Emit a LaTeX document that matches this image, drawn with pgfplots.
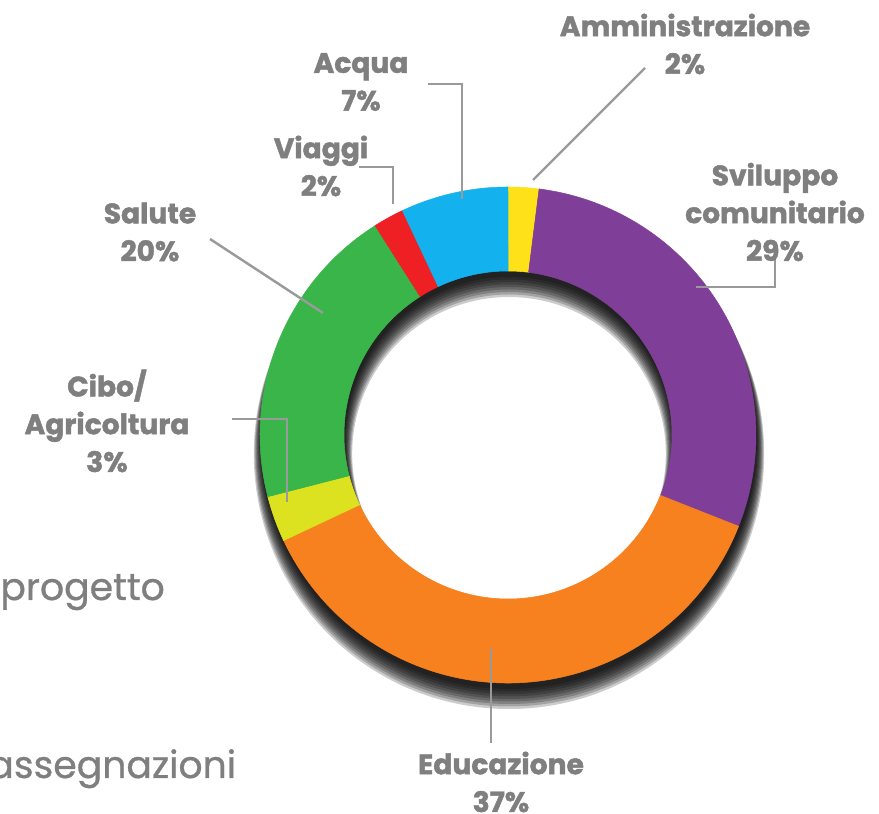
\documentclass[border=0pt]{standalone}
\usepackage{fontspec}
\setmainfont{Poppins}
\usepackage{pgfplots}
\usepackage{pgfplotstable}
\pgfplotsset{compat=1.18}

\definecolor{amm}{HTML}{FFE11A}
\definecolor{svi}{HTML}{7F3F98}
\definecolor{edu}{HTML}{F7801F}
\definecolor{cib}{HTML}{DCE21F}
\definecolor{sal}{HTML}{3AB54A}
\definecolor{via}{HTML}{EE2024}
\definecolor{acq}{HTML}{13B1EE}
\definecolor{labgray}{HTML}{7F7F7F}
\definecolor{linegray}{HTML}{9A9A9A}

% share (%) of each slice, clockwise from the top
\pgfplotstableread{
share col
2  amm
29 svi
37 edu
3  cib
20 sal
2  via
7  acq
}\donutdata

\begin{document}
\begin{tikzpicture}
\begin{axis}[
    x=0.02cm, y=0.02cm,
    xmin=0, xmax=879, ymin=0, ymax=814,
    hide axis,
    clip=false,
]
% soft shadow under the ring
\pgfplotsforeachungrouped \k in {0,...,8} {
  \pgfmathsetmacro\ro{(248+0.9*\k)*0.02}
  \pgfmathsetmacro\ri{(164-0.9*\k)*0.02}
  \pgfmathsetmacro\cy{379-6-1.6*\k}
  \edef\temp{\noexpand\fill[black, opacity=0.2, even odd rule]
    (axis cs:509,\cy) circle[radius=\ro cm]
    (axis cs:509,\cy) circle[radius=\ri cm];}
  \temp
}
% ring slices
\xdef\startang{90}
\pgfplotsforeachungrouped \i in {0,...,6} {
  \pgfplotstablegetelem{\i}{share}\of\donutdata \let\sh\pgfplotsretval
  \pgfplotstablegetelem{\i}{col}\of\donutdata \let\cl\pgfplotsretval
  \pgfmathsetmacro\endang{\startang-3.6*\sh}
  \pgfmathsetmacro\xa{508+248*cos(\startang)}
  \pgfmathsetmacro\ya{379+248*sin(\startang)}
  \pgfmathsetmacro\xb{508+164*cos(\endang)}
  \pgfmathsetmacro\yb{379+164*sin(\endang)}
  \edef\temp{\noexpand\fill[\cl, draw=\cl, line width=0.3pt]
    (axis cs:\xa,\ya) arc[start angle=\startang, end angle=\endang, radius=4.96cm]
    -- (axis cs:\xb,\yb) arc[start angle=\endang, end angle=\startang, radius=3.28cm] -- cycle;}
  \temp
  \xdef\startang{\endang}
}
% leader lines
\draw[linegray, line width=1.4pt] (axis cs:533,634) -- (axis cs:645,746);
\draw[linegray, line width=1.4pt] (axis cs:428,730) -- (axis cs:462,730) -- (axis cs:462,615);
\draw[linegray, line width=1.4pt] (axis cs:359,647) -- (axis cs:393,647) -- (axis cs:393,610);
\draw[linegray, line width=1.4pt] (axis cs:210,575) -- (axis cs:323,501);
\draw[linegray, line width=1.4pt] (axis cs:232,395) -- (axis cs:287,395) -- (axis cs:287,312);
\draw[linegray, line width=1.4pt] (axis cs:696,527) -- (axis cs:775,527) -- (axis cs:775,556);
\draw[linegray, line width=1.4pt] (axis cs:491,166) -- (axis cs:491,71);
% labels
\tikzset{lab/.style={text=labgray, align=center, inner sep=0pt,
    font=\fontsize{16}{21.5}\selectfont\bfseries\addfontfeatures{FakeBold=1.6}}}
\node[lab] at (axis cs:685,770) {Amministrazione\\2\%};
\node[lab] at (axis cs:361,732) {Acqua\\7\%};
\node[lab] at (axis cs:321,648) {Viaggi\\2\%};
\node[lab] at (axis cs:150,582) {Salute\\20\%};
\node[lab] at (axis cs:107,393) {Cibo/\\Agricoltura\\3\%};
\node[lab] at (axis cs:775,602) {Sviluppo\\comunitario\\29\%};
\node[lab] at (axis cs:501,32) {Educazione\\37\%};
% cut-off slide text on the left
\tikzset{slide/.style={anchor=base west, inner sep=0pt, text=labgray,
    font=\fontsize{21.5}{26}\selectfont\addfontfeatures{FakeBold=0.8}}}
\node[slide] at (axis cs:0,214) {progetto};
\node[slide] at (axis cs:-12,36) {assegnazioni};
\end{axis}
\pgfresetboundingbox
\useasboundingbox (current axis.south west) rectangle (current axis.north east);
\end{tikzpicture}
\end{document}
